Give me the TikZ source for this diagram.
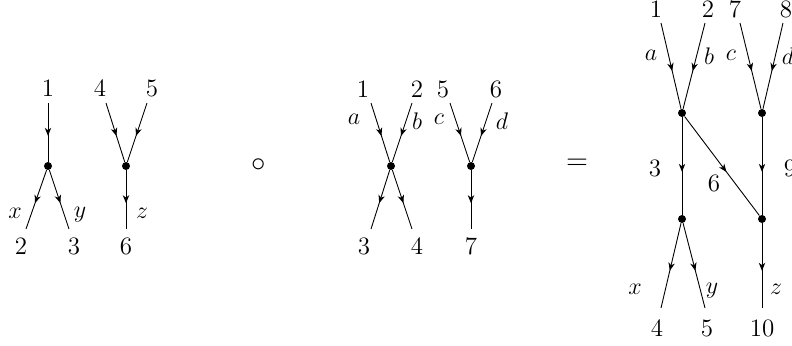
\documentclass[tikz,border=0pt]{standalone}
\usetikzlibrary{arrows.meta,decorations.markings}
\tikzset{
  vtx/.style={circle,fill,inner sep=0pt,minimum size=4pt},
  lbl/.style={inner sep=0pt,font=\fontsize{12.5}{15}\selectfont},
  op/.style={inner sep=0pt,font=\fontsize{14}{17}\selectfont},
  edge/.style={line width=0.45pt,postaction={decorate},decoration={markings,
    mark=at position 0.56 with {\arrow{Stealth[length=4pt,width=3.2pt,inset=1.2pt]}}}}
}
\begin{document}
\begin{tikzpicture}[x=0.5pt,y=-0.5pt]
\useasboundingbox (0,0) rectangle (792,345);
% ---------- left diagram ----------
\node[vtx] (L1) at (48,166) {};
\node[vtx] (L2) at (126,166) {};
\coordinate (Lt1) at (48,103);
\coordinate (Lb2) at (26,229);
\coordinate (Lb3) at (69,229);
\coordinate (Lt4) at (106,103);
\coordinate (Lt5) at (147,103);
\coordinate (Lb6) at (126,229);
\draw[edge] (Lt1) -- (L1);
\draw[edge] (L1) -- (Lb2);
\draw[edge] (L1) -- (Lb3);
\draw[edge] (Lt4) -- (L2);
\draw[edge] (Lt5) -- (L2);
\draw[edge] (L2) -- (Lb6);
\node[lbl] (l1) at (48,88) {1};
\node[lbl] (l4) at (100,88) {4};
\node[lbl] (l5) at (152,88) {5};
\node[lbl] (l2) at (21,246) {2};
\node[lbl] (l3) at (74,246) {3};
\node[lbl] (l6) at (126,246) {6};
\node[lbl] (lx) at (15,213) {$x$};
\node[lbl] (ly) at (80,215) {$y$};
\node[lbl] (lz) at (142,213) {$z$};
% ---------- operators ----------
\node[op] (circ) at (259,165) {$\circ$};
\node[op] (eq) at (577,164) {$=$};
% ---------- middle diagram ----------
\node[vtx] (M1) at (391,166) {};
\node[vtx] (M2) at (471,166) {};
\coordinate (Mt1) at (371,103);
\coordinate (Mt2) at (412,103);
\coordinate (Mb3) at (371,229);
\coordinate (Mb4) at (412,229);
\coordinate (Mt5) at (450,103);
\coordinate (Mt6) at (492,103);
\coordinate (Mb7) at (471,229);
\draw[edge] (Mt1) -- (M1);
\draw[edge] (Mt2) -- (M1);
\draw[edge] (M1) -- (Mb3);
\draw[edge] (M1) -- (Mb4);
\draw[edge] (Mt5) -- (M2);
\draw[edge] (Mt6) -- (M2);
\draw[edge] (M2) -- (Mb7);
\node[lbl] (m1) at (363,89) {1};
\node[lbl] (m2) at (417,89) {2};
\node[lbl] (m5) at (443,89) {5};
\node[lbl] (m6) at (496,89) {6};
\node[lbl] (m3) at (364,246) {3};
\node[lbl] (m4) at (417,246) {4};
\node[lbl] (m7) at (471,246) {7};
\node[lbl] (ma) at (354,119) {$a$};
\node[lbl] (mb) at (417,121) {$b$};
\node[lbl] (mc) at (439,119) {$c$};
\node[lbl] (md) at (502,121) {$d$};
% ---------- right diagram ----------
\node[vtx] (RA) at (682,113) {};
\node[vtx] (RB) at (762,113) {};
\node[vtx] (RC) at (682,219) {};
\node[vtx] (RD) at (762,219) {};
\coordinate (Rt1) at (661,23);
\coordinate (Rt2) at (705,23);
\coordinate (Rt7) at (740,23);
\coordinate (Rt8) at (783,23);
\coordinate (Rb4) at (661,308);
\coordinate (Rb5) at (705,308);
\coordinate (Rb10) at (762,308);
\draw[edge] (Rt1) -- (RA);
\draw[edge] (Rt2) -- (RA);
\draw[edge] (Rt7) -- (RB);
\draw[edge] (Rt8) -- (RB);
\draw[edge] (RA) -- (RC);
\draw[edge] (RA) -- (RD);
\draw[edge] (RB) -- (RD);
\draw[edge] (RC) -- (Rb4);
\draw[edge] (RC) -- (Rb5);
\draw[edge] (RD) -- (Rb10);
\node[lbl] (r1) at (656,9) {1};
\node[lbl] (r2) at (708,9) {2};
\node[lbl] (r7) at (735,9) {7};
\node[lbl] (r8) at (786,9) {8};
\node[lbl] (ra) at (651,55) {$a$};
\node[lbl] (rb) at (709,56) {$b$};
\node[lbl] (rc) at (731,55) {$c$};
\node[lbl] (rd) at (788,56) {$d$};
\node[lbl] (r3) at (655,168) {3};
\node[lbl] (r6) at (714,183) {6};
\node[lbl] (r9) at (790,168) {9};
\node[lbl] (rx) at (635,289) {$x$};
\node[lbl] (ry) at (712,291) {$y$};
\node[lbl] (rz) at (776,289) {$z$};
\node[lbl] (r4) at (657,328) {4};
\node[lbl] (r5) at (707,328) {5};
\node[lbl] (r10) at (762,328) {10};
\end{tikzpicture}
\end{document}
